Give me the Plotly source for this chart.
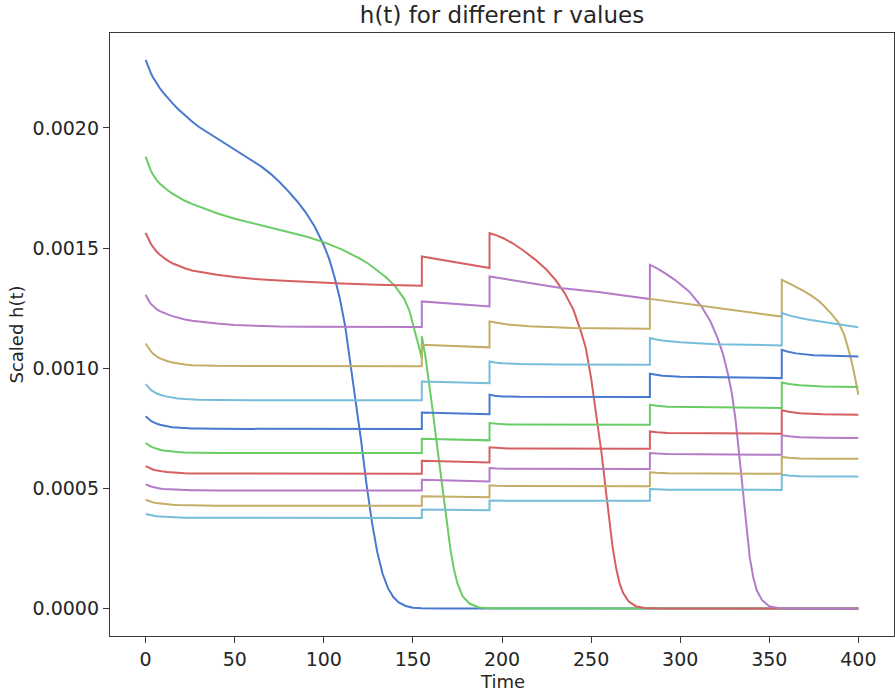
import plotly.graph_objects as go

# ---- data (time points and scaled h(t) values) ----
t_early = [0, 1, 2, 3, 4, 5, 6, 8, 10, 12, 15, 18, 22, 26, 30, 40]

t_s1 = t_early + [45, 50, 55, 60, 65, 70, 75, 80, 85, 90, 95, 100, 103, 106, 109, 112, 115, 118,
                  121, 124, 127, 130, 133, 136, 139, 142, 146, 150, 155, 165, 400]
h_s1 = [22.83e-4, 22.62e-4, 22.43e-4, 22.27e-4, 22.12e-4, 21.99e-4, 21.87e-4, 21.65e-4, 21.46e-4,
        21.28e-4, 21.03e-4, 20.8e-4, 20.52e-4, 20.27e-4, 20.04e-4, 19.57e-4,
        19.35e-4, 19.12e-4, 18.89e-4, 18.65e-4, 18.39e-4, 18.1e-4, 17.76e-4, 17.37e-4, 16.95e-4,
        16.47e-4, 15.88e-4, 15.12e-4, 14.55e-4, 13.8e-4, 12.9e-4, 11.75e-4, 10.2e-4, 8.7e-4,
        6.95e-4, 5.15e-4, 3.6e-4, 2.35e-4, 1.45e-4, 0.85e-4, 0.48e-4, 0.26e-4, 0.11e-4, 0.04e-4,
        0.015e-4, 0.0, 0.0]

t_s2 = t_early + [50, 60, 70, 80, 90, 100, 110, 120, 125, 130, 135, 140, 145, 148, 151, 153, 155,
                  155, 157, 159, 161, 163, 165, 167, 169, 171, 173, 175, 178, 182, 187, 195, 400]
h_s2 = [18.81e-4, 18.58e-4, 18.38e-4, 18.21e-4, 18.07e-4, 17.95e-4, 17.85e-4, 17.68e-4, 17.55e-4,
        17.43e-4, 17.27e-4, 17.13e-4, 16.97e-4, 16.84e-4, 16.73e-4, 16.45e-4,
        16.22e-4, 16.03e-4, 15.86e-4, 15.68e-4, 15.48e-4, 15.25e-4, 14.95e-4, 14.57e-4, 14.35e-4,
        14.07e-4, 13.78e-4, 13.42e-4, 12.9e-4, 12.4e-4, 11.62e-4, 11.0e-4, 10.42e-4, 11.33e-4,
        10.5e-4, 9.45e-4, 8.3e-4, 7.1e-4, 5.9e-4, 4.7e-4, 3.55e-4, 2.5e-4, 1.65e-4, 1.05e-4,
        0.5e-4, 0.2e-4, 0.05e-4, 0.01e-4, 0.0]

t_s3 = t_early + [50, 60, 75, 90, 110, 130, 155, 155, 193, 193, 197, 201, 206, 212, 219, 225, 230,
                  235, 240, 244, 247, 250, 252, 254, 256, 258, 260, 262, 264, 266, 268, 271, 275,
                  280, 290, 400]
h_s3 = [15.63e-4, 15.45e-4, 15.3e-4, 15.17e-4, 15.06e-4, 14.96e-4, 14.87e-4, 14.72e-4, 14.6e-4,
        14.5e-4, 14.37e-4, 14.27e-4, 14.16e-4, 14.07e-4, 14.01e-4, 13.89e-4,
        13.8e-4, 13.72e-4, 13.65e-4, 13.59e-4, 13.53e-4, 13.48e-4, 13.43e-4, 14.65e-4, 14.17e-4,
        15.62e-4, 15.53e-4, 15.4e-4, 15.2e-4, 14.9e-4, 14.5e-4, 14.1e-4, 13.68e-4, 13.15e-4,
        12.45e-4, 11.6e-4, 10.85e-4, 9.6e-4, 8.6e-4, 7.5e-4, 6.4e-4, 5.1e-4, 3.75e-4, 2.6e-4,
        1.7e-4, 1.05e-4, 0.65e-4, 0.3e-4, 0.1e-4, 0.03e-4, 0.0, 0.0]

t_s4 = t_early + [50, 60, 75, 90, 155, 155, 193, 193, 200, 215, 234, 254, 271, 283, 283, 287, 291,
                  297, 305, 312, 317, 321, 324, 327, 329, 331, 333, 335, 337, 339, 341, 343, 346,
                  350, 355, 362, 400]
h_s4 = [13.06e-4, 12.9e-4, 12.78e-4, 12.68e-4, 12.6e-4, 12.53e-4, 12.47e-4, 12.38e-4, 12.31e-4,
        12.25e-4, 12.17e-4, 12.1e-4, 12.03e-4, 11.98e-4, 11.94e-4, 11.86e-4,
        11.8e-4, 11.77e-4, 11.74e-4, 11.73e-4, 11.72e-4, 12.78e-4, 12.57e-4, 13.82e-4, 13.74e-4,
        13.55e-4, 13.33e-4, 13.17e-4, 13.0e-4, 12.88e-4, 14.3e-4, 14.16e-4, 13.98e-4, 13.68e-4,
        13.2e-4, 12.57e-4, 11.95e-4, 11.25e-4, 10.6e-4, 9.7e-4, 8.95e-4, 7.9e-4, 6.5e-4, 4.95e-4,
        3.4e-4, 2.15e-4, 1.3e-4, 0.75e-4, 0.35e-4, 0.1e-4, 0.03e-4, 0.0, 0.0]

t_s5 = t_early + [60, 155, 155, 193, 193, 197, 203, 215, 240, 283, 283, 357, 357, 362, 366, 370,
                  374, 378, 381, 385, 389, 392, 394, 396, 398, 400]
h_s5 = [11.03e-4, 10.9e-4, 10.79e-4, 10.7e-4, 10.62e-4, 10.55e-4, 10.5e-4, 10.41e-4, 10.35e-4,
        10.3e-4, 10.24e-4, 10.2e-4, 10.16e-4, 10.13e-4, 10.12e-4, 10.1e-4,
        10.09e-4, 10.08e-4, 10.98e-4, 10.87e-4, 11.95e-4, 11.89e-4, 11.82e-4, 11.75e-4, 11.68e-4,
        11.64e-4, 12.89e-4, 12.15e-4, 13.68e-4, 13.5e-4, 13.35e-4, 13.19e-4, 13.0e-4, 12.79e-4,
        12.57e-4, 12.25e-4, 11.88e-4, 11.4e-4, 10.9e-4, 10.35e-4, 9.66e-4, 8.9e-4]

t_s6 = t_early + [60, 155, 155, 193, 193, 196, 200, 210, 230, 283, 283, 286, 290, 300, 320, 357,
                  357, 362, 370, 385, 400]
h_s6 = [9.34e-4, 9.25e-4, 9.17e-4, 9.1e-4, 9.05e-4, 9.0e-4, 8.96e-4, 8.9e-4, 8.85e-4, 8.82e-4,
        8.78e-4, 8.74e-4, 8.72e-4, 8.7e-4, 8.69e-4, 8.68e-4,
        8.67e-4, 8.67e-4, 9.45e-4, 9.38e-4, 10.28e-4, 10.24e-4, 10.21e-4, 10.18e-4, 10.16e-4,
        10.15e-4, 11.26e-4, 11.21e-4, 11.16e-4, 11.08e-4, 11.0e-4, 10.95e-4, 12.3e-4, 12.18e-4,
        12.05e-4, 11.87e-4, 11.71e-4]

t_s7 = t_early + [155, 155, 193, 193, 196, 200, 210, 283, 283, 286, 290, 300, 357, 357, 360, 365,
                  375, 400]
h_s7 = [8.0e-4, 7.93e-4, 7.86e-4, 7.81e-4, 7.77e-4, 7.73e-4, 7.7e-4, 7.65e-4, 7.61e-4, 7.59e-4,
        7.55e-4, 7.53e-4, 7.51e-4, 7.49e-4, 7.49e-4, 7.48e-4,
        7.47e-4, 8.16e-4, 8.09e-4, 8.9e-4, 8.86e-4, 8.83e-4, 8.81e-4, 8.8e-4, 9.77e-4, 9.73e-4,
        9.69e-4, 9.65e-4, 9.59e-4, 10.77e-4, 10.7e-4, 10.62e-4, 10.54e-4, 10.49e-4]

t_low = t_early + [155, 155, 193, 193, 197, 203, 283, 283, 287, 293, 357, 357, 361, 367, 380, 400]
h_s8 = [6.89e-4, 6.83e-4, 6.78e-4, 6.74e-4, 6.71e-4, 6.68e-4, 6.65e-4, 6.61e-4, 6.58e-4, 6.56e-4,
        6.54e-4, 6.52e-4, 6.5e-4, 6.49e-4, 6.48e-4, 6.47e-4,
        6.47e-4, 7.07e-4, 7.0e-4, 7.72e-4, 7.69e-4, 7.66e-4, 7.65e-4, 8.48e-4, 8.44e-4, 8.4e-4,
        8.35e-4, 9.41e-4, 9.35e-4, 9.29e-4, 9.24e-4, 9.22e-4]
h_s9 = [5.93e-4, 5.89e-4, 5.85e-4, 5.81e-4, 5.79e-4, 5.77e-4, 5.75e-4, 5.72e-4, 5.7e-4, 5.68e-4,
        5.66e-4, 5.65e-4, 5.63e-4, 5.62e-4, 5.62e-4, 5.61e-4,
        5.61e-4, 6.15e-4, 6.08e-4, 6.71e-4, 6.68e-4, 6.66e-4, 6.65e-4, 7.37e-4, 7.34e-4, 7.31e-4,
        7.28e-4, 8.25e-4, 8.19e-4, 8.13e-4, 8.09e-4, 8.07e-4]
h_s10 = [5.17e-4, 5.13e-4, 5.1e-4, 5.08e-4, 5.06e-4, 5.04e-4, 5.02e-4, 5.0e-4, 4.98e-4, 4.97e-4,
         4.95e-4, 4.94e-4, 4.93e-4, 4.92e-4, 4.92e-4, 4.91e-4,
         4.91e-4, 5.36e-4, 5.29e-4, 5.85e-4, 5.83e-4, 5.82e-4, 5.81e-4, 6.47e-4, 6.45e-4, 6.43e-4,
         6.40e-4, 7.21e-4, 7.17e-4, 7.13e-4, 7.11e-4, 7.1e-4]
h_s11 = [4.53e-4, 4.5e-4, 4.47e-4, 4.44e-4, 4.42e-4, 4.4e-4, 4.39e-4, 4.37e-4, 4.35e-4, 4.34e-4,
         4.32e-4, 4.31e-4, 4.3e-4, 4.29e-4, 4.29e-4, 4.28e-4,
         4.28e-4, 4.67e-4, 4.63e-4, 5.13e-4, 5.11e-4, 5.1e-4, 5.09e-4, 5.67e-4, 5.65e-4, 5.63e-4,
         5.61e-4, 6.31e-4, 6.28e-4, 6.25e-4, 6.24e-4, 6.24e-4]
h_s12 = [3.94e-4, 3.92e-4, 3.9e-4, 3.88e-4, 3.87e-4, 3.85e-4, 3.84e-4, 3.83e-4, 3.82e-4, 3.81e-4,
         3.8e-4, 3.79e-4, 3.78e-4, 3.78e-4, 3.78e-4, 3.77e-4,
         3.77e-4, 4.12e-4, 4.09e-4, 4.5e-4, 4.49e-4, 4.49e-4, 4.49e-4, 4.98e-4, 4.97e-4, 4.95e-4,
         4.94e-4, 5.57e-4, 5.54e-4, 5.51e-4, 5.5e-4, 5.5e-4]

palette = ["#4878CF", "#6ACC65", "#D65F5F", "#B47CC7", "#C4AD66", "#77BEDB"]

series = [
    (t_s1, h_s1), (t_s2, h_s2), (t_s3, h_s3), (t_s4, h_s4), (t_s5, h_s5), (t_s6, h_s6),
    (t_s7, h_s7), (t_low, h_s8), (t_low, h_s9), (t_low, h_s10), (t_low, h_s11), (t_low, h_s12),
]

x_ticks = [0, 50, 100, 150, 200, 250, 300, 350, 400]
y_ticks = [0.0, 0.0005, 0.0010, 0.0015, 0.0020]

FONT = "DejaVu Sans"
TXT = "#262626"

fig = go.Figure()
for i, (tt, hh) in enumerate(series):
    fig.add_trace(go.Scatter(
        x=tt, y=hh, mode="lines",
        line=dict(color=palette[i % len(palette)], width=2),
        showlegend=False, hoverinfo="skip",
    ))

axis_common = dict(
    showgrid=False, zeroline=False, showline=True, mirror=True,
    linecolor="#3a3a3a", linewidth=1.3,
    ticks="outside", ticklen=6, tickwidth=1.3, tickcolor="#3a3a3a",
    tickfont=dict(family=FONT, size=19, color=TXT),
)

fig.update_layout(
    width=895, height=693,
    margin=dict(l=110, r=1, t=33, b=57),
    paper_bgcolor="white", plot_bgcolor="white",
    title=dict(text="h(t) for different r values", x=0.5, xref="paper",
               y=1 - 15 / 693, yref="container", xanchor="center", yanchor="middle",
               font=dict(family=FONT, size=23, color=TXT)),
    xaxis=dict(range=[-20, 420], tickvals=x_ticks, **axis_common),
    yaxis=dict(range=[-0.000114, 0.002395], tickvals=y_ticks, tickformat=".4f", **axis_common),
    annotations=[
        dict(text="Time", xref="paper", yref="paper", x=0.5, y=0, xanchor="center",
             yanchor="middle", yshift=-45, showarrow=False,
             font=dict(family=FONT, size=18, color=TXT)),
        dict(text="Scaled h(t)", xref="paper", yref="paper", x=0, y=0.5, xanchor="center",
             yanchor="middle", xshift=-94, textangle=-90, showarrow=False,
             font=dict(family=FONT, size=18, color=TXT)),
    ],
)

fig.write_html("out.html")
